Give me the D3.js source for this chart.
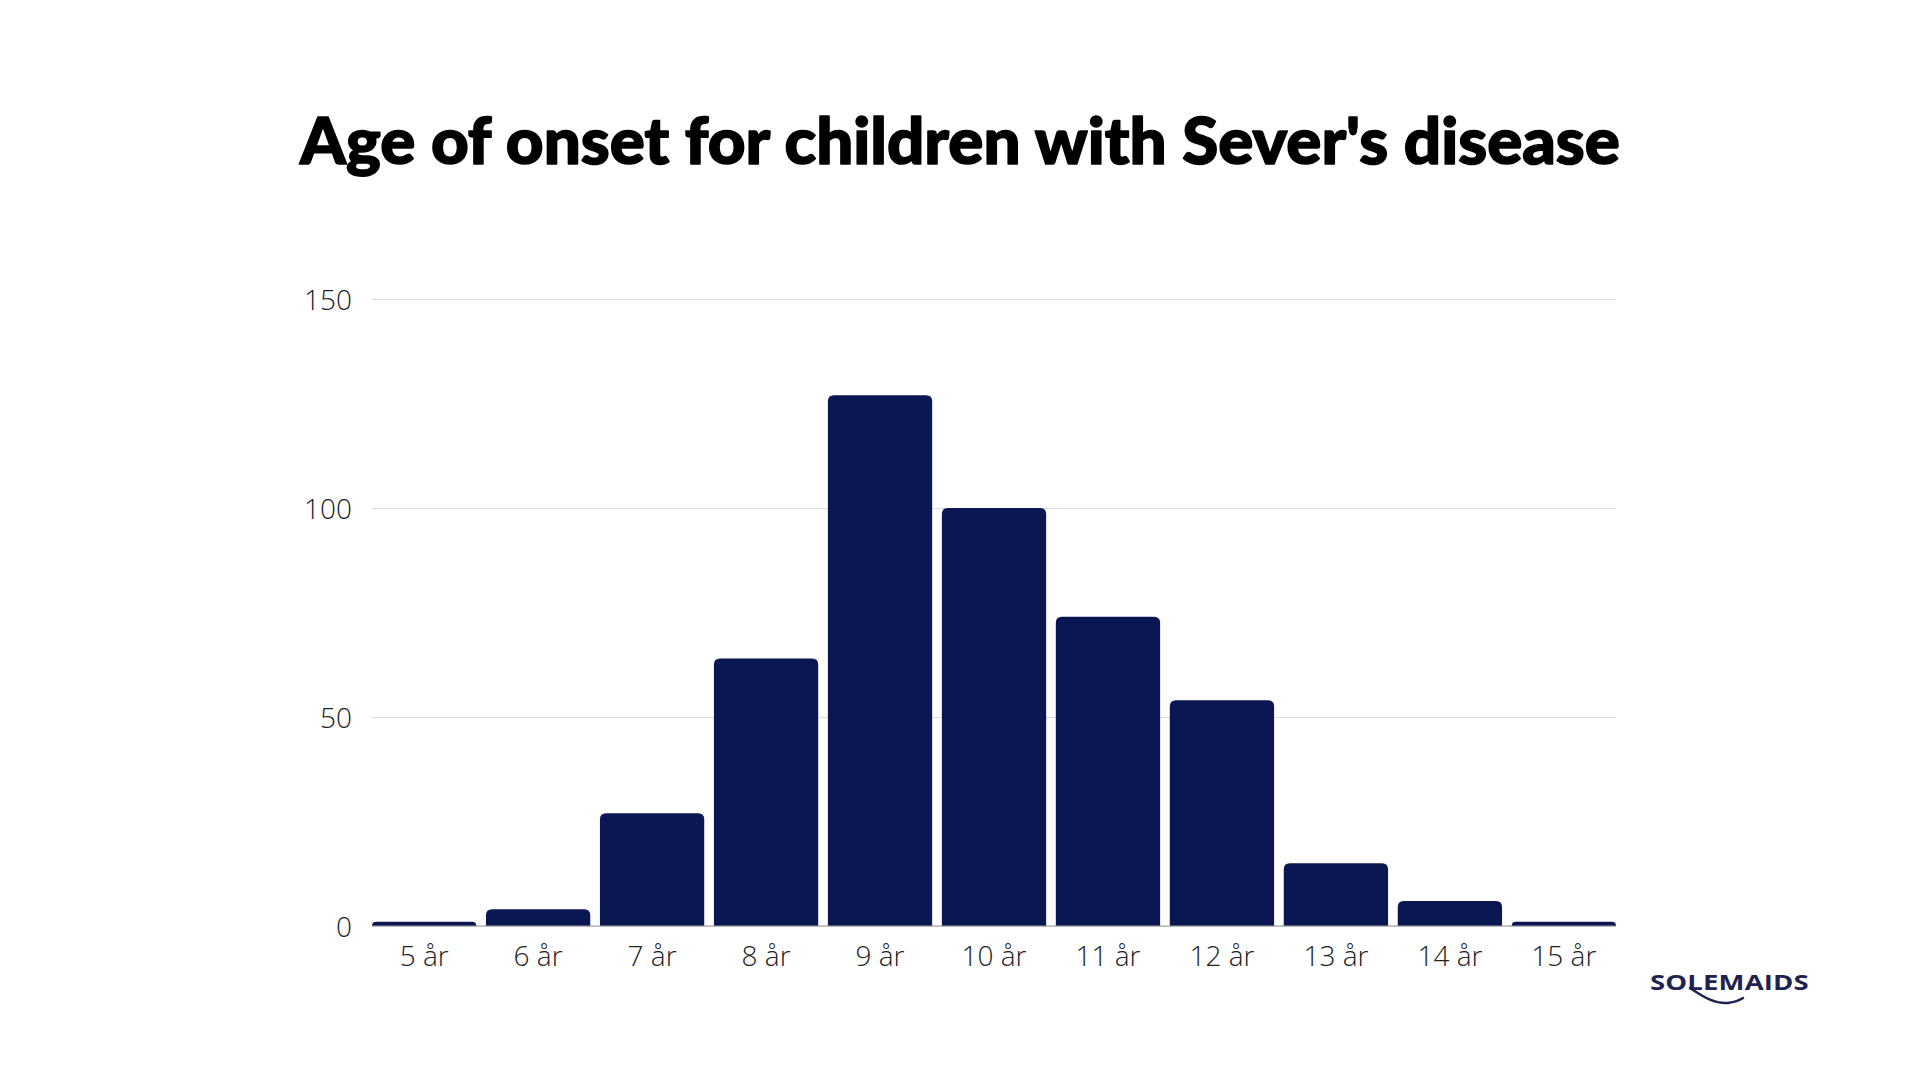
<!DOCTYPE html>
<html>
<head>
<meta charset="utf-8">
<script src="https://cdn.jsdelivr.net/npm/d3@7"></script>
<style>
  html, body { margin: 0; padding: 0; background: #ffffff; }
  svg { display: block; }
</style>
</head>
<body>
<svg id="chart" width="1920" height="1080"></svg>
<script>
const categories = ["5 år","6 år","7 år","8 år","9 år","10 år","11 år","12 år","13 år","14 år","15 år"];
const values = [1, 4, 27, 64, 127, 100, 74, 54, 15, 6, 1];
const yTicks = [0, 50, 100, 150];
const titleText = "Age of onset for children with Sever's disease";
const logoText = "SOLEMAIDS";

const svg = d3.select("#chart");
const margin = { left: 372, right: 1616, top: 299, bottom: 926 };

const x = d3.scaleBand().domain(categories).range([margin.left, margin.right])
  .paddingInner(0.085).paddingOuter(0);
const y = d3.scaleLinear().domain([0, 150]).range([margin.bottom, margin.top]);

// Title
const title = svg.append("text")
  .attr("x", 960).attr("y", 164)
  .attr("text-anchor", "middle")
  .style("font-family", "Lato, 'Noto Sans', sans-serif")
  .style("font-weight", 900)
  .style("font-size", "60px")
  .style("fill", "#000")
  .style("stroke", "#000")
  .style("stroke-width", "1.6px")
  .style("stroke-linejoin", "round")
  .text(titleText);
const tw = title.node().getComputedTextLength();
const targetW = 1320;
title.style("font-size", (60 * targetW / tw) + "px");

// Gridlines
const yAxis = d3.axisLeft(y).tickValues(yTicks).tickSize(-(margin.right - margin.left)).tickPadding(20);
const gy = svg.append("g").attr("transform", `translate(${margin.left},0)`).call(yAxis);
gy.select(".domain").remove();
gy.selectAll(".tick line").attr("stroke", "#dcdcdc").attr("stroke-width", 1.2);
gy.selectAll(".tick text")
  .attr("dy", "0.38em")
  .style("font-family", "'Open Sans', sans-serif")
  .style("font-weight", 300)
  .style("font-size", "28px")
  .style("fill", "#222");

// Bars with rounded top corners
const r = 6;
function barPath(d, i) {
  const x0 = x(categories[i]);
  const w = x.bandwidth();
  const y0 = y(d);
  const y1 = y(0);
  const rr = Math.min(r, (y1 - y0));
  return `M${x0},${y1} L${x0},${y0 + rr} Q${x0},${y0} ${x0 + rr},${y0} L${x0 + w - rr},${y0} Q${x0 + w},${y0} ${x0 + w},${y0 + rr} L${x0 + w},${y1} Z`;
}
svg.append("g").selectAll("path").data(values).join("path")
  .attr("d", (d, i) => barPath(d, i))
  .attr("fill", "#0b1752");

// Baseline
svg.append("line")
  .attr("x1", margin.left).attr("x2", margin.right)
  .attr("y1", y(0)).attr("y2", y(0))
  .attr("stroke", "#9a9a9a").attr("stroke-width", 1);

// X axis labels
const xAxis = d3.axisBottom(x).tickSize(0).tickPadding(20);
const gx = svg.append("g").attr("transform", `translate(0,${y(0)})`).call(xAxis);
gx.select(".domain").remove();
gx.selectAll(".tick text")
  .style("font-family", "'Open Sans', sans-serif")
  .style("font-weight", 300)
  .style("font-size", "28px")
  .style("fill", "#222");

// Logo
const logo = svg.append("g");
logo.append("text")
  .attr("x", 1650).attr("y", 990)
  .attr("textLength", 127)
  .attr("lengthAdjust", "spacing")
  .style("font-family", "'Open Sans', 'Noto Sans', sans-serif")
  .style("font-weight", 700)
  .style("font-size", "22px")
  .style("fill", "#1f2350")
  .attr("transform", "translate(1650,990) scale(1.25,1) translate(-1650,-990)")
  .text(logoText);
logo.append("path")
  .attr("d", "M1690,988 C1701,995 1713,1004 1728,1003 C1735,1002 1740,1000 1743,998")
  .attr("fill", "none")
  .attr("stroke", "#1f2350")
  .attr("stroke-width", 2.5)
  .attr("stroke-linecap", "round");
</script>
</body>
</html>
